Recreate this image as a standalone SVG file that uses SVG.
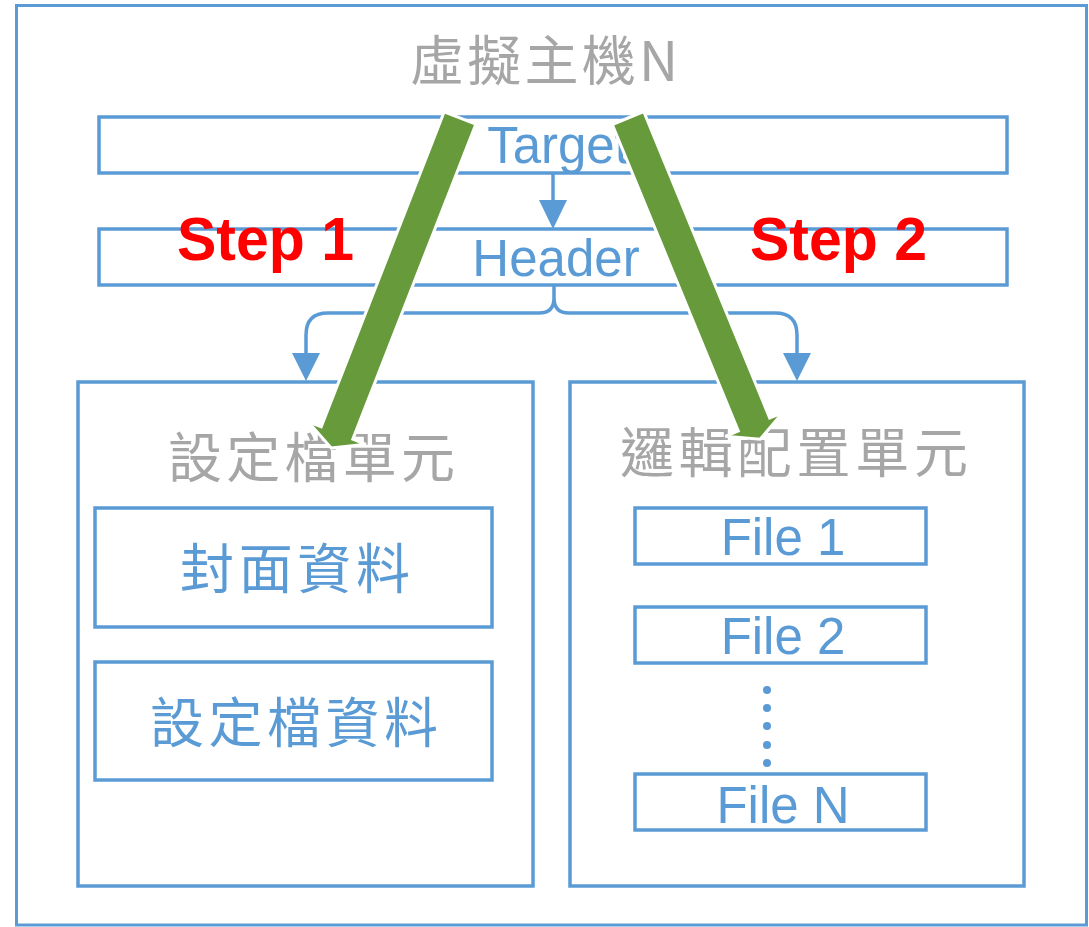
<svg xmlns="http://www.w3.org/2000/svg" width="1089" height="927" viewBox="0 0 1089 927">
<defs>
<style>
.box{fill:none;stroke:#5B9BD5;stroke-width:3.5}
.outer{fill:#fff;stroke:#5B9BD5;stroke-width:3}
.line{fill:none;stroke:#5B9BD5;stroke-width:3.5}
.head{fill:#5B9BD5}
.cjkg{font-family:"Noto Sans CJK TC","Noto Sans CJK SC",sans-serif;fill:#A6A6A6;font-size:54px}
.cjkb{font-family:"Noto Sans CJK TC","Noto Sans CJK SC",sans-serif;fill:#5B9BD5;font-size:54px}
.lat{font-family:"Liberation Sans",Arial,sans-serif;fill:#5B9BD5;font-size:51px}
.step{font-family:"Liberation Sans",Arial,sans-serif;fill:#FF0000;font-size:62px;font-weight:bold}
.green{fill:#669A3A;stroke:#fff;stroke-width:3;stroke-linejoin:miter}
</style>
</defs>
<rect class="outer" x="16.5" y="5.5" width="1070" height="919.5"/>
<g id="title">
<text class="cjkg" x="410" y="81" textLength="268" lengthAdjust="spacing">虛擬主機N</text>
</g>
<g id="target">
<rect class="box" x="99" y="117" width="908" height="56"/>
<text class="lat" x="558" y="163" text-anchor="middle">Target</text>
</g>
<g id="header">
<rect class="box" x="99" y="229" width="908" height="56"/>
<text class="lat" x="556" y="276" text-anchor="middle">Header</text>
</g>
<g id="config-unit">
<rect class="box" x="78" y="382" width="455" height="504"/>
<text class="cjkg" x="168" y="478" textLength="287" lengthAdjust="spacing">設定檔單元</text>
</g>
<g id="cover-data">
<rect class="box" x="95" y="508" width="397" height="119"/>
<text class="cjkb" x="180" y="589" textLength="230" lengthAdjust="spacing">封面資料</text>
</g>
<g id="config-data">
<rect class="box" x="95" y="662" width="397" height="118"/>
<text class="cjkb" x="150" y="743" textLength="288" lengthAdjust="spacing">設定檔資料</text>
</g>
<g id="logic-unit">
<rect class="box" x="570" y="382" width="454" height="504"/>
<text class="cjkg" x="620" y="473" textLength="348" lengthAdjust="spacing">邏輯配置單元</text>
</g>
<g id="file1">
<rect class="box" x="635" y="508" width="291" height="56"/>
<text class="lat" x="783" y="555" text-anchor="middle">File 1</text>
</g>
<g id="file2">
<rect class="box" x="635" y="607" width="291" height="56"/>
<text class="lat" x="783" y="654" text-anchor="middle">File 2</text>
</g>
<g id="dots" class="head">
<circle cx="767" cy="690" r="4"/>
<circle cx="767" cy="708" r="4"/>
<circle cx="767" cy="726" r="4"/>
<circle cx="767" cy="745" r="4"/>
<circle cx="767" cy="763" r="4"/>
</g>
<g id="fileN">
<rect class="box" x="635" y="774" width="291" height="56"/>
<text class="lat" x="783" y="823" text-anchor="middle">File N</text>
</g>
<g id="connectors">
<path class="line" d="M553 173 V202"/>
<polygon class="head" points="539,200 567,200 553,229"/>
<path class="line" d="M306 356 V335 Q306 313 328 313 H539 Q554 313 554 298 V285 M554 298 Q554 313 569 313 H775 Q797 313 797 335 V356"/>
<polygon class="head" points="292,353 320,353 306,381"/>
<polygon class="head" points="783,353 811,353 797,381"/>
<polygon class="green" points="444.2,111.8 475.8,124.2 352.8,439.2 365.9,444.3 331.2,447.9 308.1,421.7 321.2,426.8"/>
<polygon class="green" points="612.3,124.5 643.7,111.5 769.7,418.0 782.7,412.7 760.1,439.3 725.3,436.3 738.3,431.0"/>
</g>
<g id="steps">
<text class="step" x="177" y="260" textLength="177" lengthAdjust="spacingAndGlyphs">Step 1</text>
<text class="step" x="750" y="260" textLength="177" lengthAdjust="spacingAndGlyphs">Step 2</text>
</g>
</svg>
